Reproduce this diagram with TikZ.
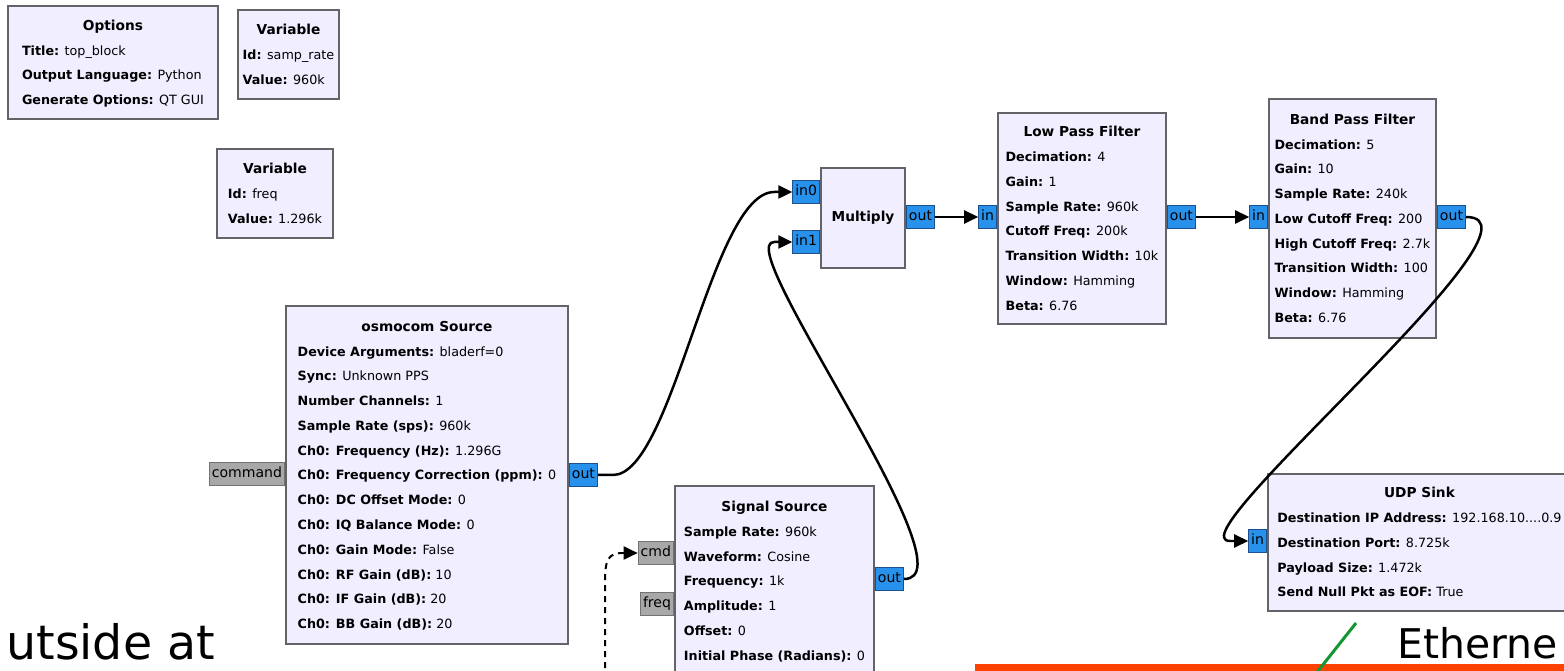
\documentclass[tikz,border=0pt]{standalone}
\usepackage{fontspec}
\setmainfont{DejaVu Sans}
\newfontfamily\slidefont{DejaVu Sans}
\usetikzlibrary{arrows.meta,positioning}
\definecolor{blockfill}{RGB}{240,238,255}
\definecolor{blockedge}{RGB}{100,100,104}
\definecolor{portblue}{RGB}{40,145,235}
\definecolor{portedge}{RGB}{30,80,140}
\definecolor{portgray}{RGB}{168,168,168}
\definecolor{portgrayedge}{RGB}{115,115,115}
\definecolor{lineorange}{RGB}{255,66,0}
\definecolor{linegreen}{RGB}{20,150,50}
\newcommand{\btitle}[1]{{\fontsize{7.8}{14.1}\selectfont\bfseries #1}}
\newcommand{\blockrows}[2]{\begin{tabular}{@{}l@{}}\multicolumn{1}{@{}c@{}}{\btitle{#1}}\\ #2\end{tabular}}
\begin{document}
\begin{tikzpicture}[x=0.02cm, y=-0.02cm,
  block/.style={draw=blockedge, line width=0.04cm, fill=blockfill, anchor=north west, inner sep=0pt, font=\fontsize{7.25}{14.1}\selectfont},
  port/.style={draw=portedge, line width=0.02cm, fill=portblue, inner xsep=0.05cm, inner ysep=0pt, minimum height=0.46cm, text height=0.2cm, text depth=0.05cm, font=\fontsize{8}{9.6}\selectfont},
  msgport/.style={port, fill=portgray, draw=portgrayedge},
  wire/.style={line width=0.05cm, -{Triangle[length=0.28cm, width=0.26cm]}},
  slidetext/.style={inner sep=0pt, anchor=base west, font=\slidefont}]
\useasboundingbox (0,0) rectangle (1564,671);
\clip (0,0) rectangle (1564,671);

% blocks
\node [block, minimum width=4.20cm, minimum height=2.26cm] (opts) at (7,5) {\blockrows{Options}{\textbf{Title:} top\_block\\ \textbf{Output Language:} Python\\ \textbf{Generate Options:} QT GUI}};
\node [block, minimum width=2.02cm, minimum height=1.78cm] (vsamp) at (237,9) {\blockrows{Variable}{\textbf{Id:} samp\_rate\\ \textbf{Value:} 960k}};
\node [block, minimum width=2.32cm, minimum height=1.78cm] (vfreq) at (216,148) {\blockrows{Variable}{\textbf{Id:} freq\\ \textbf{Value:} 1.296k}};
\node [block, minimum width=5.64cm, minimum height=6.76cm] (osmo) at (285,305) {\blockrows{osmocom Source}{\textbf{Device Arguments:} bladerf=0\\ \textbf{Sync:} Unknown PPS\\ \textbf{Number Channels:} 1\\ \textbf{Sample Rate (sps):} 960k\\ \textbf{Ch0: Frequency (Hz):} 1.296G\\ \textbf{Ch0: Frequency Correction (ppm):} 0\\ \textbf{Ch0: DC Offset Mode:} 0\\ \textbf{Ch0: IQ Balance Mode:} 0\\ \textbf{Ch0: Gain Mode:} False\\ \textbf{Ch0: RF Gain (dB):} 10\\ \textbf{Ch0: IF Gain (dB):} 20\\ \textbf{Ch0: BB Gain (dB):} 20}};
\node [block, minimum width=1.68cm, minimum height=2.0cm] (mul) at (820,167) {\btitle{Multiply}};
\node [block, minimum width=3.36cm, minimum height=4.22cm] (lpf) at (997,112) {\blockrows{Low Pass Filter}{\textbf{Decimation:} 4\\ \textbf{Gain:} 1\\ \textbf{Sample Rate:} 960k\\ \textbf{Cutoff Freq:} 200k\\ \textbf{Transition Width:} 10k\\ \textbf{Window:} Hamming\\ \textbf{Beta:} 6.76}};
\node [block, minimum width=3.34cm, minimum height=4.78cm] (bpf) at (1268,98) {\blockrows{Band Pass Filter}{\textbf{Decimation:} 5\\ \textbf{Gain:} 10\\ \textbf{Sample Rate:} 240k\\ \textbf{Low Cutoff Freq:} 200\\ \textbf{High Cutoff Freq:} 2.7k\\ \textbf{Transition Width:} 100\\ \textbf{Window:} Hamming\\ \textbf{Beta:} 6.76}};
\node [block, minimum width=3.98cm, minimum height=3.80cm] (sig) at (674,485) {\blockrows{Signal Source}{\textbf{Sample Rate:} 960k\\ \textbf{Waveform:} Cosine\\ \textbf{Frequency:} 1k\\ \textbf{Amplitude:} 1\\ \textbf{Offset:} 0\\ \textbf{Initial Phase (Radians):} 0}};
\node [block, minimum width=6.06cm, minimum height=2.74cm] (udp) at (1267,473) {\blockrows{UDP Sink}{\textbf{Destination IP Address:} 192.168.10....0.9\\ \textbf{Destination Port:} 8.725k\\ \textbf{Payload Size:} 1.472k\\ \textbf{Send Null Pkt as EOF:} True}};

% ports
\node [msgport, anchor=east] (osmocmd) at (osmo.west |- 0,474) {command};
\node [port, anchor=west] (osmoout) at (osmo.east |- 0,475) {out};
\node [port, anchor=east] (mulin0) at (mul.west |- 0,192) {in0};
\node [port, anchor=east] (mulin1) at (mul.west |- 0,242) {in1};
\node [port, anchor=west] (mulout) at (mul.east |- 0,217) {out};
\node [port, anchor=east] (lpfin) at (lpf.west |- 0,217) {in};
\node [port, anchor=west] (lpfout) at (lpf.east |- 0,217) {out};
\node [port, anchor=east] (bpfin) at (bpf.west |- 0,217) {in};
\node [port, anchor=west] (bpfout) at (bpf.east |- 0,217) {out};
\node [port, anchor=east] (udpin) at (udp.west |- 0,541) {in};
\node [msgport, anchor=east] (sigcmd) at (sig.west |- 0,553) {cmd};
\node [msgport, anchor=east] (sigfreq) at (sig.west |- 0,604) {freq};
\node [port, anchor=west] (sigout) at (sig.east |- 0,579) {out};

% connections
\draw [wire] (osmoout.east) -- ++(15,0) .. controls +(60,0) and +(-63,0) .. ([xshift=-0.36cm]mulin0.west) -- (mulin0.west);
\draw [wire] (sigout.east) .. controls +(73,0) and +(-45,0) .. ([xshift=-0.36cm]mulin1.west) -- (mulin1.west);
\draw [wire] (mulout.east) -- (lpfin.west);
\draw [wire] (lpfout.east) -- (bpfin.west);
\draw [wire] (bpfout.east) .. controls +(97,0) and +(-60,0) .. ([xshift=-0.36cm]udpin.west) -- (udpin.west);
\coordinate (cmdsrc) at (605,690);
\draw [wire, line width=0.04cm, dash pattern=on 0.12cm off 0.1cm] (cmdsrc) -- (605,582) .. controls (605,560) and (608,553) .. ([xshift=-0.3cm]sigcmd.west) -- (sigcmd.west);

% slide overlay
\node [slidetext, font=\fontsize{27}{32}\selectfont] (outside) at (6,659) {utside at};
\node [slidetext, font=\fontsize{23.3}{28}\selectfont] (ether) at (1397,658) {Etherne};
\fill [lineorange] (975,664) rectangle (1570,676);
\draw [linegreen, line width=0.06cm] (1356,623) -- (1314,676);
\end{tikzpicture}
\end{document}
